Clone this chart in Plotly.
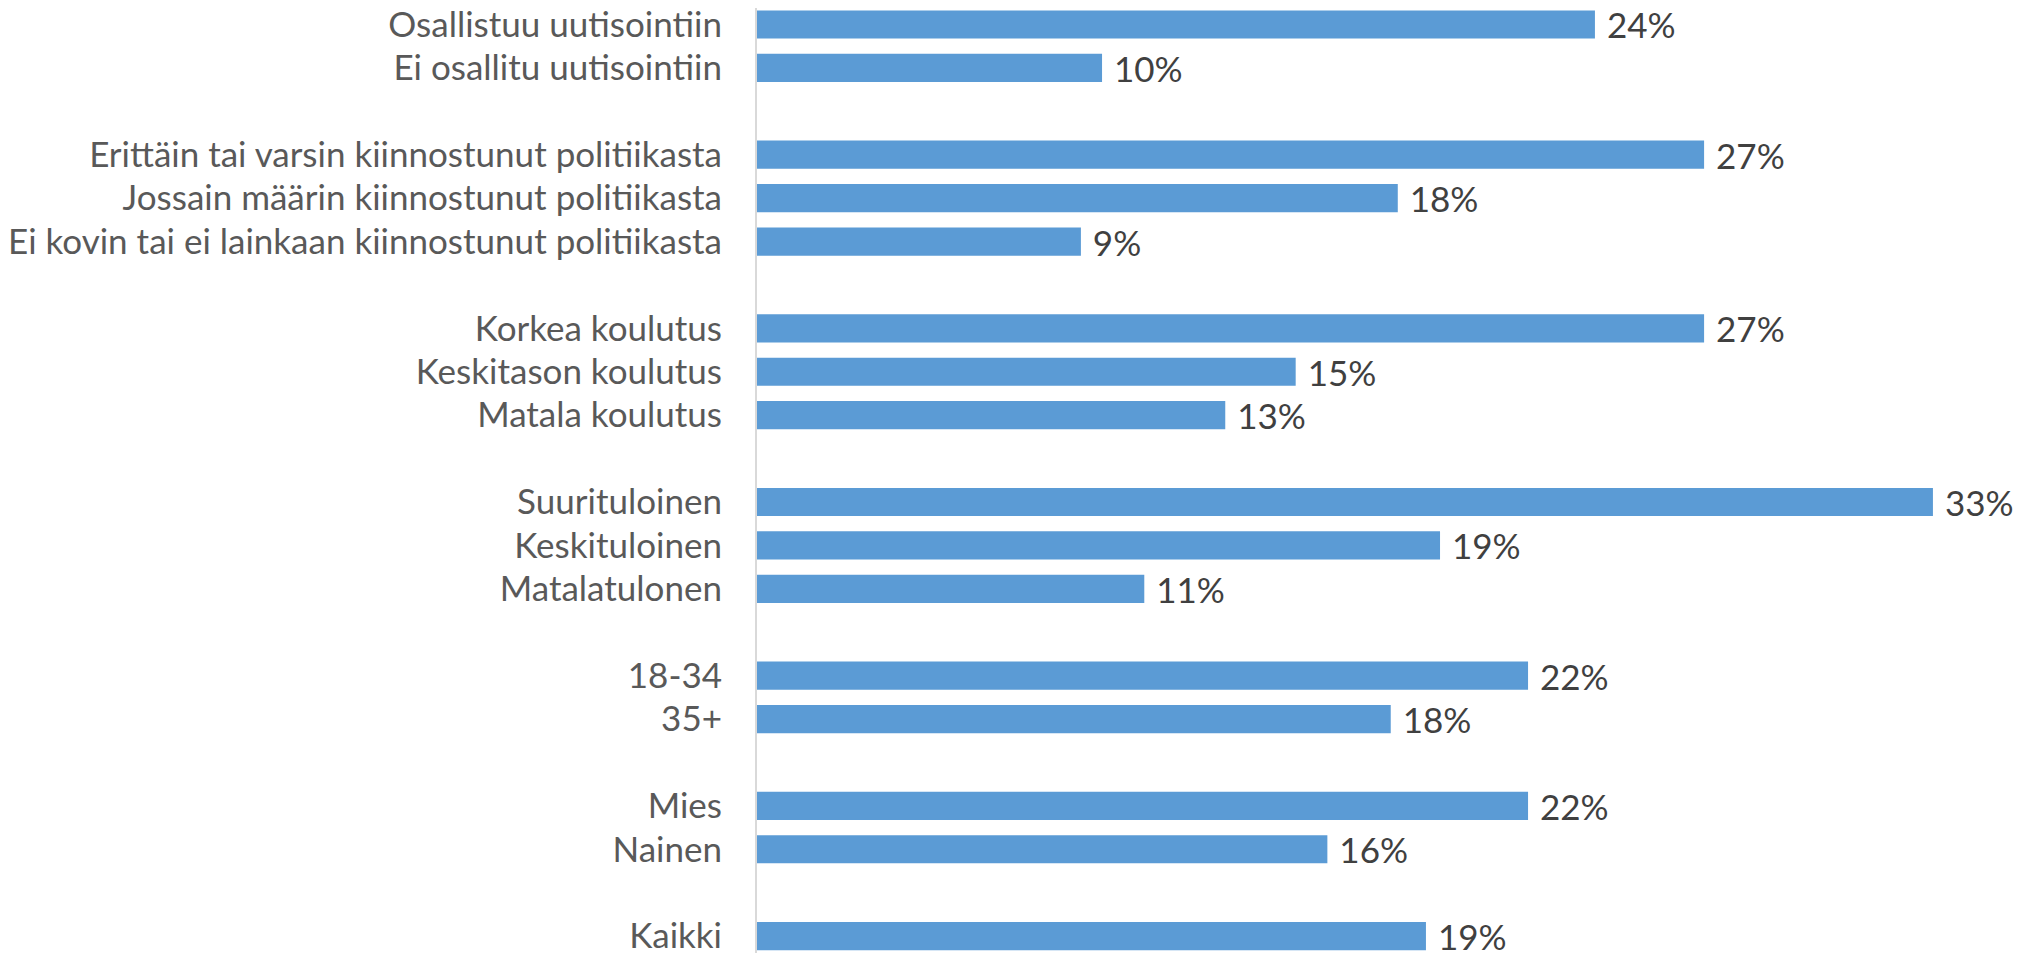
import plotly.graph_objects as go

# Categories top to bottom; blank entries are spacer rows between groups
categories = [
    "Osallistuu uutisointiin", "Ei osallitu uutisointiin", " ",
    "Erittäin tai varsin kiinnostunut politiikasta",
    "Jossain määrin kiinnostunut politiikasta",
    "Ei kovin tai ei lainkaan kiinnostunut politiikasta", "  ",
    "Korkea koulutus", "Keskitason koulutus", "Matala koulutus", "   ",
    "Suurituloinen", "Keskituloinen", "Matalatulonen", "    ",
    "18-34", "35+", "     ",
    "Mies", "Nainen", "      ",
    "Kaikki",
]
values = [
    23.8, 9.8, None,
    26.9, 18.2, 9.2, None,
    26.9, 15.3, 13.3, None,
    33.4, 19.4, 11.0, None,
    21.9, 18.0, None,
    21.9, 16.2, None,
    19.0,
]
labels = [f"{v:.0f}%" if v is not None else "" for v in values]

fig = go.Figure()
fig.add_trace(go.Bar(
    y=categories,
    x=values,
    orientation='h',
    marker=dict(color='#5B9BD5', line=dict(width=0)),
    text=["\u00a0" + t for t in labels],
    textposition='outside',
    constraintext='none',
    textfont=dict(family='Lato', size=35, color='#404040'),
    cliponaxis=False,
    hoverinfo='skip',
))

fig.update_layout(
    width=2020, height=945,
    margin=dict(l=749, r=0, t=0, b=0),
    paper_bgcolor='white', plot_bgcolor='white',
    showlegend=False,
    bargap=0.35,
    xaxis=dict(range=[0, 36.1], visible=False),
    yaxis=dict(
        type='category',
        categoryorder='array', categoryarray=categories,
        range=[len(categories) - 0.61, -0.38],
        automargin=False,
        showline=True, linecolor='#D9D9D9', linewidth=2,
        ticks='', showgrid=False, zeroline=False,
        ticklabelstandoff=26,
        tickfont=dict(family='Lato', size=35, color='#595959'),
    ),
)

fig.write_html("out.html")
